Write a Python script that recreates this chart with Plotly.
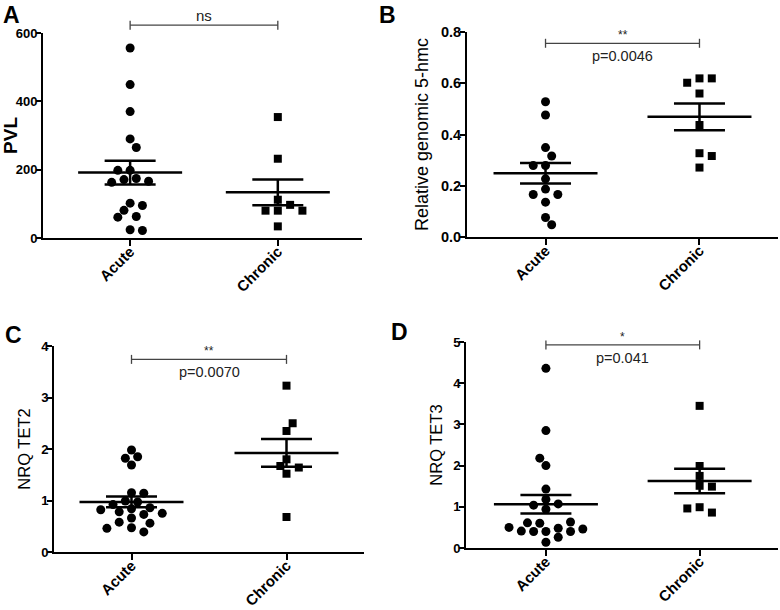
import numpy as np
import plotly.graph_objects as go

# ---- data ----
groups = ["Acute", "Chronic"]

pvl_acute = [556, 449, 370, 290, 265, 198, 198, 174, 171, 166, 163, 102, 95, 81, 63, 61, 24, 22]
pvl_chronic = [354, 232, 112, 97, 80, 80, 80, 34]

hmc_acute = [0.528, 0.476, 0.349, 0.316, 0.279, 0.279, 0.227, 0.187, 0.166, 0.166, 0.136, 0.076, 0.048]
hmc_chronic = [0.619, 0.619, 0.602, 0.560, 0.437, 0.327, 0.316, 0.271]

tet2_acute = [1.98, 1.85, 1.82, 1.69, 1.15, 1.14, 0.99, 0.97, 0.92, 0.86, 0.84,
              0.82, 0.78, 0.75, 0.73, 0.66, 0.58, 0.56, 0.47, 0.46, 0.39]
tet2_chronic = [3.23, 2.50, 2.35, 1.80, 1.67, 1.64, 1.52, 0.68]

tet3_acute = [4.36, 2.85, 2.18, 2.00, 1.43, 1.18, 1.07, 1.04, 0.94, 0.63, 0.61,
              0.60, 0.50, 0.48, 0.46, 0.41, 0.40, 0.40, 0.40, 0.26, 0.14]
tet3_chronic = [3.45, 1.99, 1.75, 1.51, 1.49, 0.99, 0.96, 0.86]

y_titles = ["PVL", "Relative genomic 5-hmc", "NRQ TET2", "NRQ TET3"]
panel_labels = ["A", "B", "C", "D"]
sig_stars = ["ns", "**", "**", "*"]
p_texts = ["", "p=0.0046", "p=0.0070", "p=0.041"]
y_tickvals = [[0, 200, 400, 600], [0, 0.2, 0.4, 0.6, 0.8], [0, 1, 2, 3, 4], [0, 1, 2, 3, 4, 5]]
y_ticktext = [["0", "200", "400", "600"], ["0.0", "0.2", "0.4", "0.6", "0.8"],
              ["0", "1", "2", "3", "4"], ["0", "1", "2", "3", "4", "5"]]
sig_levels = [623, 0.756, 3.74, 4.93]   # height of the comparison bracket

series = [(pvl_acute, pvl_chronic), (hmc_acute, hmc_chronic),
          (tet2_acute, tet2_chronic), (tet3_acute, tet3_chronic)]

# ---- layout of the four panels (pixel boxes in a 780x610 page) ----
W, H = 780, 610
boxes = [  # left, right, top, bottom of each plot area
    (43, 362, 33, 238),
    (467, 778, 32, 237),
    (54, 364, 346, 552),
    (466, 778, 342, 548),
]
x_ranges = [(-0.59, 1.57), (-0.51, 1.51), (-0.5, 1.5), (-0.52, 1.51)]
label_pos = [(1, 0), (377, 0), (3, 320), (389, 317)]
title_standoff = [3, 8, 6, 6]
ytick_size = [13, 14.5, 13, 13]
ytitle_font = [dict(size=19, weight="bold"), dict(size=18), dict(size=16.5), dict(size=16.5)]
FONT = "Arial, Liberation Sans, sans-serif"


def place(vals, order, px_x, px_y, spacing, min_dist):
    offs = np.zeros(len(vals))
    placed = []
    flip = 1
    for i in order:
        y = vals[i] * px_y
        k = 0
        while True:
            cands = [0.0] if k == 0 else [flip * k * spacing / 2, -flip * k * spacing / 2]
            ok = None
            for c in cands:
                if all((c - px) ** 2 + (y - py) ** 2 >= min_dist ** 2 for px, py in placed):
                    ok = c
                    break
            if ok is not None:
                break
            k += 1
        if ok != 0:
            flip = -int(np.sign(ok))
        placed.append((ok, y))
        offs[i] = ok / px_x
    return offs


def swarm(vals, px_x, px_y, spacing=12.3, min_dist=8.8):
    """GraphPad-like scatter: spread points sideways on a half-step grid,
    keeping the most compact of a few placement orders."""
    vals = np.asarray(vals, dtype=float)
    med = np.median(vals)
    orders = [np.argsort(-vals, kind="stable"), np.argsort(vals, kind="stable"),
              np.argsort(np.abs(vals - med), kind="stable")]
    best, best_score = None, None
    for order in orders:
        offs = place(vals, order, px_x, px_y, spacing, min_dist)
        score = (round(np.max(np.abs(offs)) * px_x, 1), np.sum(np.abs(offs)))
        if best_score is None or score < best_score:
            best, best_score = offs, score
    return best


fig = go.Figure()
shapes, annotations = [], []

for p in range(4):
    l, r, t, b = boxes[p]
    xr = x_ranges[p]
    ymax = y_tickvals[p][-1]
    px_x = (r - l) / (xr[1] - xr[0])
    px_y = (b - t) / ymax
    sfx = "" if p == 0 else str(p + 1)
    xa, ya = "x" + sfx, "y" + sfx

    line_x, line_y = [], []
    for g, vals in enumerate(series[p]):
        offs = swarm(vals, px_x, px_y)
        fig.add_trace(go.Scatter(
            x=g + offs, y=vals, mode="markers", xaxis=xa, yaxis=ya,
            marker=dict(symbol="circle" if g == 0 else "square",
                        size=9 if g == 0 else 8, color="black", line=dict(width=0)),
            showlegend=False, hoverinfo="y"))
        m = np.mean(vals)
        sem = np.std(vals, ddof=1) / np.sqrt(len(vals))
        hw, hs = 52 / px_x, 25.5 / px_x
        line_x += [g - hw, g + hw, None, g - hs, g + hs, None, g - hs, g + hs, None, g, g, None]
        line_y += [m, m, None, m + sem, m + sem, None, m - sem, m - sem, None, m - sem, m + sem, None]
    fig.add_trace(go.Scatter(x=line_x, y=line_y, mode="lines", xaxis=xa, yaxis=ya,
                             line=dict(color="black", width=2.5), showlegend=False,
                             hoverinfo="skip"))

    fig.update_layout(**{
        ("xaxis" + sfx): dict(
            domain=[l / W, r / W], range=list(xr), anchor=ya,
            tickvals=[0, 1], ticktext=groups, tickangle=-45,
            tickfont=dict(family=FONT, size=15, color="black", weight="bold"),
            ticklabelstandoff=-9,
            showline=True, linecolor="black", linewidth=2,
            ticks="outside", ticklen=6, tickwidth=2, tickcolor="black",
            showgrid=False, zeroline=False, automargin=False),
        ("yaxis" + sfx): dict(
            domain=[1 - b / H, 1 - t / H], range=[0, ymax], anchor=xa,
            tickvals=y_tickvals[p], ticktext=y_ticktext[p],
            tickfont=dict(family=FONT, size=ytick_size[p], color="black", weight="bold"),
            ticklabelstandoff=-4,
            showline=True, linecolor="black", linewidth=2,
            ticks="outside", ticklen=5, tickwidth=2, tickcolor="black",
            showgrid=False, zeroline=False, automargin=False,
            title=dict(text=y_titles[p], standoff=title_standoff[p],
                       font=dict(family=FONT, color="black", **ytitle_font[p]))),
    })

    # comparison bracket
    yf = sig_levels[p] / ymax
    cap = 4.5 / (b - t)
    yd = ya + " domain"
    shapes.append(dict(type="line", xref=xa, yref=yd, x0=0, x1=1, y0=yf, y1=yf,
                       line=dict(color="#444", width=1.3)))
    for gx in (0, 1):
        shapes.append(dict(type="line", xref=xa, yref=yd, x0=gx, x1=gx, y0=yf - cap, y1=yf + cap,
                           line=dict(color="#444", width=1.3)))
    star_size = 15 if sig_stars[p] == "ns" else 12
    annotations.append(dict(text=sig_stars[p], xref=xa, yref=yd, x=0.5, y=yf,
                            xanchor="center", yanchor="bottom", showarrow=False, yshift=-1,
                            font=dict(family=FONT, size=star_size, color="#222")))
    if p_texts[p]:
        annotations.append(dict(text=p_texts[p], xref=xa, yref=yd, x=0.5, y=yf,
                                xanchor="center", yanchor="top", showarrow=False, yshift=-3,
                                font=dict(family=FONT, size=14.5, color="#222")))
    lx, ly = label_pos[p]
    annotations.append(dict(text=panel_labels[p], xref="paper", yref="paper",
                            x=lx / W, y=1 - ly / H, xanchor="left", yanchor="top",
                            showarrow=False,
                            font=dict(family=FONT, size=23, color="black", weight="bold")))

fig.update_layout(
    width=W, height=H, margin=dict(l=0, r=0, t=0, b=0),
    paper_bgcolor="white", plot_bgcolor="white",
    shapes=shapes, annotations=annotations, showlegend=False,
)

# the page body has a default 8px margin; drop it so the figure fills the window
fig.write_html("out.html", config={"displayModeBar": False},
               post_script="document.body.style.margin='0';")
